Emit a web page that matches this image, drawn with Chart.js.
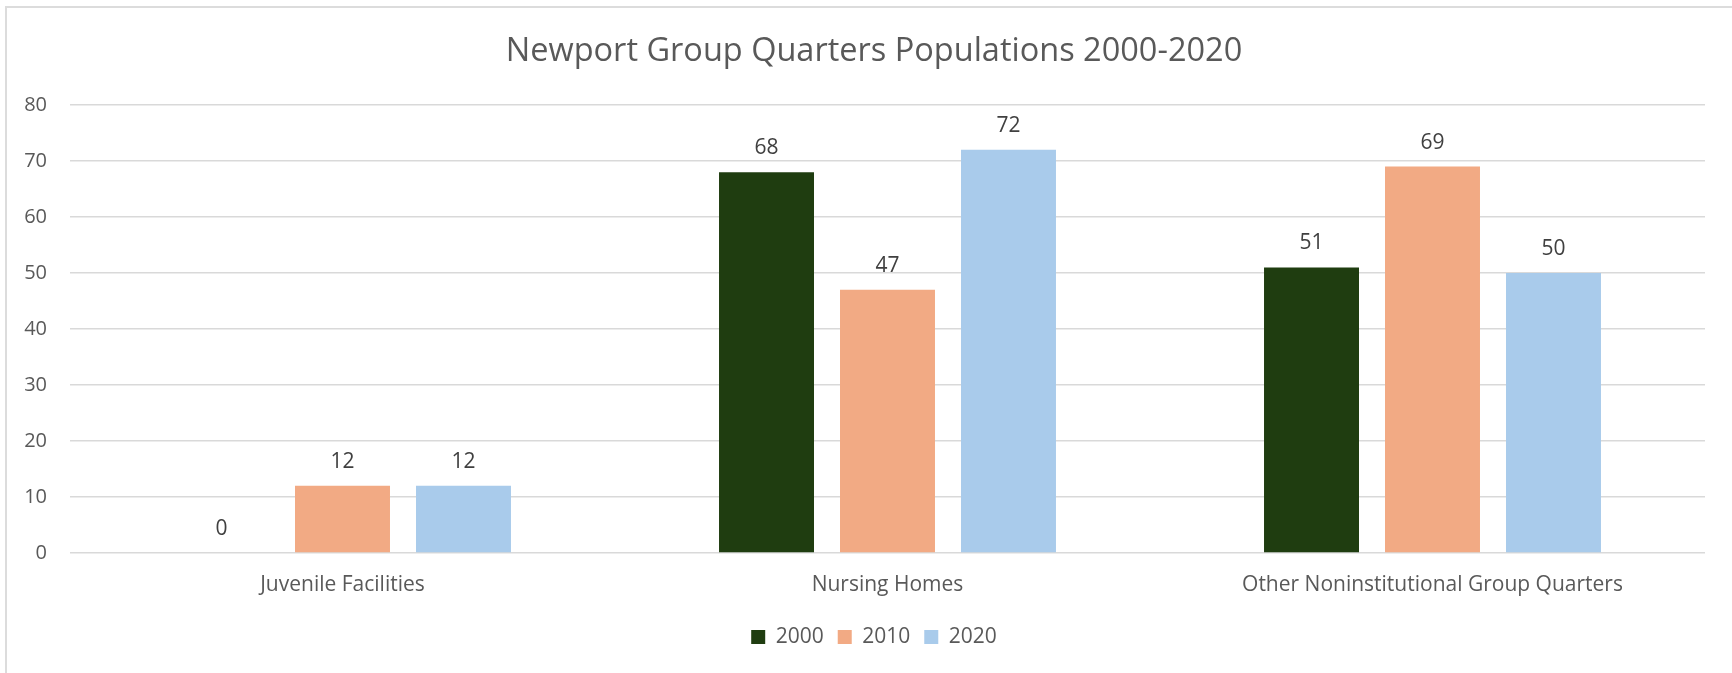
<!DOCTYPE html>
<html>
<head>
<meta charset="utf-8">
<script src="https://cdn.jsdelivr.net/npm/chart.js@4.4.1/dist/chart.umd.min.js"></script>
<style>
  html, body { margin: 0; padding: 0; background: #fff; }
  #wrap { position: relative; width: 1732px; height: 673px; overflow: hidden; }
  #frame { position: absolute; left: 5px; top: 6px; width: 1800px; height: 800px;
           border-left: 2px solid #dcdcdc; border-top: 2px solid #dcdcdc; }
  #myChart { position: absolute; left: 0; top: 0; }
</style>
</head>
<body>
<div id="wrap">
  <div id="frame"></div>
  <canvas id="myChart" width="1732" height="673"></canvas>
</div>
<script>
// chart data
const categories = ["Juvenile Facilities", "Nursing Homes", "Other Noninstitutional Group Quarters"];
const years = ["2000", "2010", "2020"];
const values2000 = [0, 68, 51];
const values2010 = [12, 47, 69];
const values2020 = [12, 72, 50];
const yTicks = [0, 10, 20, 30, 40, 50, 60, 70, 80];
const barColors = ["#1f3d10", "#f2aa84", "#a9cbeb"];

const fontName = "'Open Sans', sans-serif";
const textGrey = "#595959";

// draws the number above each bar
const valueLabels = {
  id: 'valueLabels',
  afterDatasetsDraw(chart) {
    const ctx = chart.ctx;
    ctx.save();
    ctx.font = "21px " + fontName;
    ctx.fillStyle = "#404040";
    ctx.textAlign = "center";
    ctx.textBaseline = "middle";
    chart.data.datasets.forEach((ds, i) => {
      chart.getDatasetMeta(i).data.forEach((bar, j) => {
        ctx.fillText(ds.data[j], bar.x, bar.y - 24);
      });
    });
    ctx.restore();
  }
};

const seriesValues = [values2000, values2010, values2020];

new Chart("myChart", {
  type: "bar",
  data: {
    labels: categories,
    datasets: years.map((y, i) => ({
      label: y,
      data: seriesValues[i],
      backgroundColor: barColors[i],
      borderWidth: 0,
      categoryPercentage: 0.666,
      barPercentage: 0.785
    }))
  },
  options: {
    responsive: false,
    devicePixelRatio: 1,
    animation: false,
    layout: { padding: { left: 16, right: 0, top: 0, bottom: 15.5 } },
    plugins: {
      title: {
        display: true,
        text: "Newport Group Quarters Populations 2000-2020",
        color: textGrey,
        font: { family: fontName, size: 32.5, weight: "normal" },
        padding: { top: 32.5, bottom: 33.5 }
      },
      legend: {
        position: "bottom",
        labels: {
          color: textGrey,
          font: { family: fontName, size: 21 },
          boxWidth: 14,
          boxHeight: 14,
          padding: 14
        }
      },
      tooltip: { enabled: false }
    },
    scales: {
      x: {
        grid: { display: false, drawTicks: false },
        border: { display: false },
        afterFit: (scale) => { scale.height = 59.5; },
        ticks: {
          color: textGrey,
          font: { family: fontName, size: 21 },
          padding: 19.5
        }
      },
      y: {
        min: 0,
        max: 80,
        afterBuildTicks: (scale) => { scale.ticks = yTicks.map(v => ({ value: v })); },
        afterFit: (scale) => { scale.width = 54; },
        grid: { color: "#d9d9d9", lineWidth: 1.5, drawTicks: false },
        border: { display: false },
        ticks: {
          color: textGrey,
          font: { family: fontName, size: 20 },
          padding: 23
        }
      },
      // empty right axis: keeps a margin right of the plot
      spacer: {
        position: "right",
        afterFit: (scale) => { scale.width = 27; },
        grid: { display: false, drawTicks: false },
        border: { display: false },
        ticks: { display: false }
      }
    }
  },
  plugins: [valueLabels]
});
</script>
</body>
</html>
